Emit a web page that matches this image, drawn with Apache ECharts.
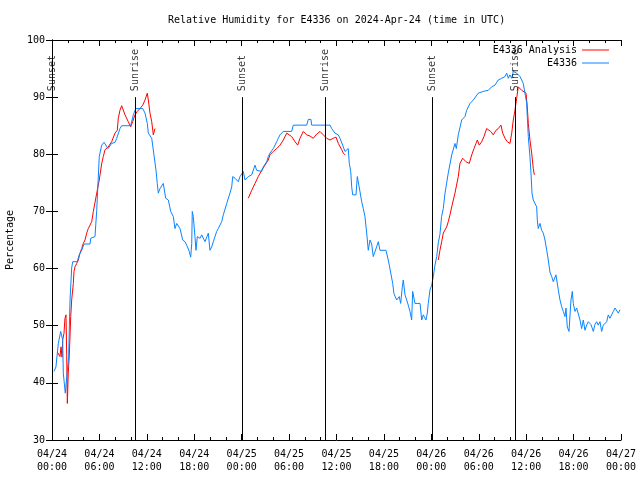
<!DOCTYPE html>
<html><head><meta charset="utf-8">
<script src="https://cdn.jsdelivr.net/npm/echarts@6/dist/echarts.min.js"></script>
<style>html,body{margin:0;padding:0;background:#fff}#c{width:640px;height:480px}</style>
</head><body><div id="c"></div>
<script>
const chartTitle = 'Relative Humidity for E4336 on 2024-Apr-24 (time in UTC)';
const yAxisName = 'Percentage';
const seriesNames = ['E4336 Analysis', 'E4336'];
const xTickLabels = ['04/24\n00:00','04/24\n06:00','04/24\n12:00','04/24\n18:00','04/25\n00:00','04/25\n06:00','04/25\n12:00','04/25\n18:00','04/26\n00:00','04/26\n06:00','04/26\n12:00','04/26\n18:00','04/27\n00:00'];
const sunEvents = ['Sunset','Sunrise','Sunset','Sunrise','Sunset','Sunrise'];
const sunHours = [0.02, 10.5, 24.04, 34.54, 48.08, 58.59];
// [hours since 2024-04-24 00:00 UTC, relative humidity %]
const analysisData = [
[0.67,45.4],[1.01,44.6],[1.14,46.3],[1.27,44.5],[1.35,47.5],[1.52,48.7],[1.64,51.3],[1.77,51.9],[1.86,45],[1.94,36.4],[2.06,41.7],[2.19,44.9],[2.37,51.6],[2.49,54.5],[2.7,57.4],[2.78,59.5],[2.91,60.3],[3.13,60.9],[3.33,61.5],[3.54,62.7],[3.76,63.5],[3.96,64.4],[4.18,65],[4.39,66.2],[4.59,67],[4.81,67.6],[5.02,68.2],[5.23,70],[5.66,73.2],[5.98,75.5],[6.29,78.4],[6.49,79.6],[6.71,80.8],[7.12,81.3],[7.55,82.2],[7.97,83.7],[8.26,84.2],[8.39,86.3],[8.6,87.7],[8.82,88.5],[9.24,86.9],[9.65,85.7],[9.96,84.8],[10.21,85.7],[10.5,86.9],[10.79,87.5],[11.13,88],[11.48,88.6],[11.77,89.5],[12.06,90.7],[12.19,89.5],[12.4,87.2],[12.62,85.7],[12.82,83.4],[13.03,84.5],
[18,null],
[24.84,72.3],[25.27,73.7],[25.69,74.9],[26.1,76.1],[26.53,77.2],[26.95,78.1],[27.37,79],[27.58,79.9],[28.0,80.5],[28.43,81],[28.85,81.6],[29.27,82.5],[29.7,83.7],[29.9,84],[30.33,83.1],[30.75,82.2],[31.09,81.6],[31.38,82.8],[31.8,84],[32.23,83.4],[32.65,83.2],[33.06,82.8],[33.41,83.4],[33.91,84],[34.33,83.4],[34.76,82.8],[35.18,82.5],[35.59,82.8],[35.94,83],[36.23,81.9],[36.66,80.8],[36.86,80.2],[37.07,79.9],
[43,null],
[48.88,61.5],[49.09,63.2],[49.31,64.7],[49.51,66.2],[49.94,67.3],[50.14,68.2],[50.36,69.4],[50.58,70.8],[50.99,73.2],[51.41,76.1],[51.62,78.4],[51.97,79.3],[52.39,78.7],[52.8,78.4],[53.11,79.9],[53.4,81],[53.65,81.9],[53.82,82.5],[54.07,81.6],[54.37,82.2],[54.66,83.1],[55.0,84.5],[55.21,84.8],[55.51,84],[55.84,83.4],[56.18,84.2],[56.47,84.5],[56.81,85.1],[57.03,83.7],[57.32,82.8],[57.61,82.2],[57.95,81.9],[58.17,83.7],[58.37,86],[58.58,87.7],[58.8,89.8],[59.0,91.8],[59.43,91.2],[59.63,91],[59.98,90.7],[60.14,88.3],[60.27,85.4],[60.48,82.5],[60.7,80.2],[60.9,77.5],[61.03,76.4]
];
const observedData = [
[0.25,42.0],[0.5,42.8],[0.8,46.9],[1.1,49.0],[1.35,47.5],[1.43,41.7],[1.68,38.2],[1.9,38.5],[2.11,44.6],[2.19,49.6],[2.28,54.5],[2.49,60.1],[2.62,61.2],[3.2,61.2],[3.45,62.4],[3.76,63.2],[4.05,64.3],[4.81,64.3],[4.9,65.3],[5.44,65.6],[5.66,70.2],[5.98,79.6],[6.29,81.6],[6.58,82.1],[7.09,81.0],[7.55,81.9],[7.97,82.1],[8.19,82.8],[8.6,84.5],[8.82,85.0],[9.96,85.0],[10.29,86.9],[10.59,88.0],[11.48,88.0],[11.77,87.2],[12.06,85.4],[12.19,83.7],[12.62,82.8],[12.82,82.5],[13.16,77.2],[13.32,74.9],[13.45,73.2],[13.67,74.0],[14.08,74.9],[14.39,72.3],[14.72,72.0],[15.02,70.0],[15.35,69.1],[15.56,67.0],[15.78,67.9],[15.98,68.0],[16.2,67.0],[16.54,65.0],[16.83,64.7],[17.04,64.1],[17.37,63.0],[17.55,62.0],[17.68,64.4],[17.75,70.0],[17.88,69.1],[18.09,65.6],[18.22,63.2],[18.39,65.6],[18.51,65.9],[18.73,65.3],[18.94,65.9],[19.36,64.7],[19.78,66.2],[19.99,63.2],[20.21,63.8],[20.41,64.7],[20.84,66.5],[21.04,67.0],[21.47,68.2],[21.68,69.4],[22.11,71.4],[22.52,73.2],[22.74,74.3],[22.87,76.1],[23.16,75.8],[23.37,76.1],[23.57,75.2],[23.79,76.1],[24.0,75.8],[24.21,77.0],[24.42,75.5],[24.64,75.2],[24.84,76.1],[25.27,76.4],[25.69,78.1],[25.9,77.2],[26.1,77.0],[26.53,77.0],[26.74,77.8],[26.95,78.1],[27.17,78.7],[27.37,79.6],[27.58,80.2],[28.0,81.0],[28.22,81.6],[28.43,82.2],[28.63,82.8],[28.85,83.4],[29.27,84.0],[30.33,84.0],[30.53,85.1],[32.23,85.1],[32.43,86.1],[32.77,86.1],[32.86,85.1],[35.18,85.1],[35.39,84.5],[35.81,83.7],[36.23,83.4],[36.44,82.8],[36.86,81.3],[37.07,80.5],[37.49,81.0],[37.62,78.4],[37.8,77.0],[37.92,74.3],[38.05,72.9],[38.47,72.9],[38.63,76.1],[38.84,74.5],[39.19,71.7],[39.39,70.5],[39.6,69.1],[39.82,66.2],[40.02,63.2],[40.24,65.0],[40.45,64.3],[40.65,62.1],[41.08,63.8],[41.29,64.7],[41.5,63.2],[42.26,63.2],[42.55,61.5],[42.68,60.6],[42.9,60.9],[43.11,57.4],[43.27,55.6],[43.62,54.5],[43.82,54.2],[43.94,55.1],[44.12,53.9],[44.33,56.8],[44.45,58.0],[44.67,55.4],[44.88,54.5],[45.08,53.6],[45.3,52.5],[45.51,51.0],[45.64,56.0],[45.93,53.9],[46.57,53.9],[46.78,51.0],[46.98,51.9],[47.32,51.0],[47.49,52.2],[47.61,53.9],[47.83,56.3],[48.05,57.1],[48.25,58.6],[48.46,60.6],[48.68,62.1],[48.88,64.5],[49.09,66.0],[49.3,69.1],[49.51,70.5],[49.73,73.2],[50.14,76.7],[50.58,79.9],[50.99,81.9],[51.16,81.0],[51.41,83.4],[51.84,86.0],[52.26,86.6],[52.47,87.7],[52.89,88.9],[53.31,89.5],[53.94,90.7],[54.15,90.4],[54.57,91.0],[55.21,91.2],[55.64,91.8],[56.05,92.1],[56.47,93.0],[56.9,93.3],[57.32,93.6],[57.54,94.2],[57.74,93.3],[57.95,93.9],[58.17,93.3],[58.37,94.5],[58.8,94.2],[59.0,94.5],[59.22,93.6],[59.43,93.0],[59.63,92.4],[59.85,90.7],[60.07,88.9],[60.14,86.6],[60.27,83.1],[60.48,79.6],[60.61,76.7],[60.74,73.2],[60.9,72.0],[61.12,71.7],[61.33,70.8],[61.41,68.5],[61.53,67.0],[61.75,67.9],[61.96,66.7],[62.17,66.2],[62.38,65.0],[62.6,63.2],[62.8,61.5],[63.01,59.4],[63.23,58.6],[63.43,57.7],[63.77,58.9],[64.06,56.3],[64.28,54.5],[64.5,53.3],[64.7,52.5],[64.91,51.6],[65.04,53.1],[65.2,49.8],[65.42,49.0],[65.67,54.5],[65.84,56.0],[65.96,53.9],[66.18,52.5],[66.39,53.1],[66.81,51.0],[67.02,49.5],[67.23,51.0],[67.44,49.2],[67.65,50.1],[67.86,50.7],[68.2,50.2],[68.5,49.0],[68.7,50.2],[68.92,50.7],[69.12,50.1],[69.34,50.7],[69.55,49.0],[69.76,50.1],[70.19,50.7],[70.39,51.9],[70.6,51.3],[71.03,52.5],[71.24,53.1],[71.45,53.1],[71.66,52.2],[71.87,52.8]
];

const FONT = 'DejaVu Sans Mono';
const chart = echarts.init(document.getElementById('c'), null, {renderer: 'canvas'});
const txt = {fontFamily: FONT, fontSize: 10, color: '#000'};
const baseX = {type: 'value', min: 0, max: 72, interval: 6,
  axisLine: {show: true, lineStyle: {color: '#000', width: 1}},
  axisTick: {show: true, inside: true, length: 6, lineStyle: {color: '#000'}},
  minorTick: {show: true, splitNumber: 3, length: 3, lineStyle: {color: '#000'}},
  splitLine: {show: false}, minorSplitLine: {show: false}};
const baseY = {type: 'value', min: 30, max: 100, interval: 10,
  axisLine: {show: true, lineStyle: {color: '#000', width: 1}},
  axisTick: {show: true, inside: true, length: 6, lineStyle: {color: '#000'}},
  splitLine: {show: false}};
chart.setOption({
  animation: false,
  backgroundColor: '#fff',
  title: {text: chartTitle, left: 163, top: 10, textStyle: Object.assign({}, txt, {fontWeight: 'normal'})},
  grid: {left: 52, right: 19, top: 40, bottom: 40, containLabel: false, outerBoundsMode: 'none'},
  legend: {data: seriesNames, orient: 'vertical', right: 31, top: 44, align: 'right', padding: 0,
    itemGap: 1, itemWidth: 27, itemHeight: 1, icon: 'rect',
    textStyle: Object.assign({}, txt, {lineHeight: 12})},
  xAxis: [
    Object.assign({}, baseX, {position: 'bottom', axisLabel: Object.assign({}, txt, {margin: 8, lineHeight: 13,
      formatter: v => xTickLabels[Math.round(v / 6)]})}),
    Object.assign({}, baseX, {position: 'top', axisLabel: {show: false}})
  ],
  yAxis: [
    Object.assign({}, baseY, {position: 'left', name: yAxisName, nameLocation: 'middle', nameGap: 37,
      nameTextStyle: txt, axisLabel: Object.assign({}, txt, {margin: 7})}),
    Object.assign({}, baseY, {position: 'right', axisLabel: {show: false}})
  ],
  series: [
    {name: seriesNames[0], type: 'line', data: analysisData, showSymbol: false, symbol: 'none',
      connectNulls: false, lineStyle: {color: '#ff0000', width: 1}, itemStyle: {color: '#ff0000'}, z: 3},
    {name: seriesNames[1], type: 'line', data: observedData, showSymbol: false, symbol: 'none',
      lineStyle: {color: '#0a84ff', width: 1}, itemStyle: {color: '#0a84ff'}, z: 4},
    {type: 'scatter', symbolSize: 0, silent: true, z: 5,
      data: sunHours.map((h, i) => ({value: [h, 90], name: sunEvents[i]})),
      label: Object.assign({}, txt, {show: true, formatter: p => p.name, position: 'top', distance: 5,
        rotate: 90, align: 'left', verticalAlign: 'middle', offset: [1, 0]}),
      markLine: {silent: true, symbol: 'none', label: {show: false},
        lineStyle: {color: '#000', width: 1, type: 'solid'},
        data: sunHours.map(h => [{coord: [h, 90]}, {coord: [h, 30]}])}}
  ]
});
</script></body></html>
